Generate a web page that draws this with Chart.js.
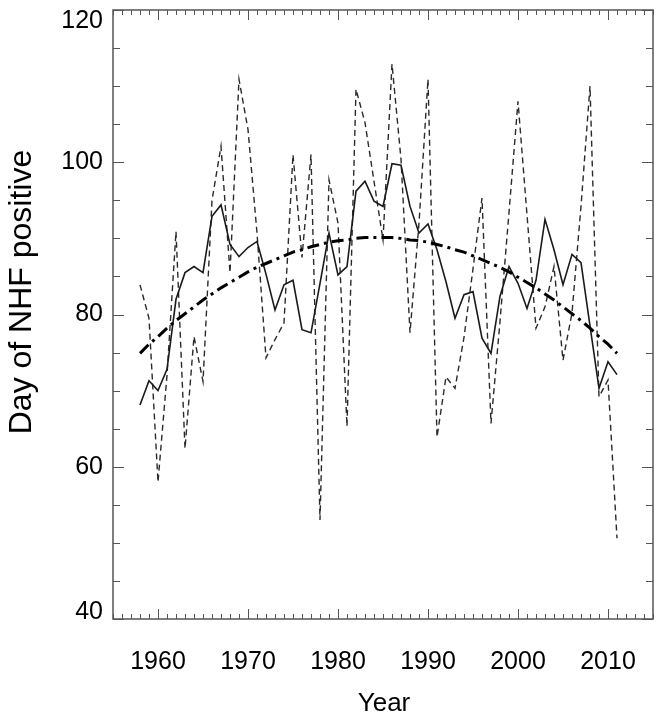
<!DOCTYPE html>
<html>
<head>
<meta charset="utf-8">
<script src="https://cdn.jsdelivr.net/npm/chart.js@4"></script>
<style>
  html, body { margin: 0; padding: 0; background: #fff; }
</style>
</head>
<body>
<canvas id="nhfChart" width="665" height="722"></canvas>
<script>
const years = [1958, 1959, 1960, 1961, 1962, 1963, 1964, 1965, 1966, 1967,
               1968, 1969, 1970, 1971, 1972, 1973, 1974, 1975, 1976, 1977,
               1978, 1979, 1980, 1981, 1982, 1983, 1984, 1985, 1986, 1987,
               1988, 1989, 1990, 1991, 1992, 1993, 1994, 1995, 1996, 1997,
               1998, 1999, 2000, 2001, 2002, 2003, 2004, 2005, 2006, 2007,
               2008, 2009, 2010, 2011];

// dashed line: yearly day counts
const annualDays = [83.9, 79.5, 58.0, 72.0, 90.9, 62.4, 77.1, 71.2, 95.0, 102.1,
                    85.5, 110.9, 104.3, 90.7, 74.3, 76.7, 78.9, 101.0, 87.5, 101.0,
                    53.0, 97.7, 92.0, 65.3, 109.6, 105.2, 97.5, 89.8, 112.9, 100.4,
                    77.6, 92.0, 110.9, 63.9, 71.8, 70.3, 77.0, 86.0, 95.3, 65.7,
                    79.1, 93.4, 108.0, 93.1, 78.2, 81.0, 86.3, 74.0, 80.2, 94.2,
                    110.0, 69.2, 71.4, 50.6];

// solid line: smoothed series
const smoothedDays = [68.1, 71.3, 70.0, 72.8, 82.0, 85.5, 86.3, 85.5, 92.9, 94.4,
                      89.2, 87.6, 88.8, 89.6, 85.3, 80.6, 83.9, 84.5, 78.0, 77.6,
                      84.1, 90.7, 85.2, 86.3, 96.2, 97.5, 94.9, 94.2, 99.8, 99.6,
                      94.2, 90.7, 91.9, 88.5, 84.3, 79.5, 82.6, 83.0, 76.9, 74.9,
                      82.4, 86.3, 84.1, 80.8, 84.5, 92.5, 88.5, 83.9, 87.9, 86.8,
                      78.5, 70.3, 73.8, 72.1];

// dash-dot line: fitted trend curve
const trendDays = [74.9, 76.1, 77.1, 78.2, 79.2, 80.1, 81.0, 81.9, 82.7, 83.5,
                   84.2, 84.9, 85.6, 86.2, 86.7, 87.2, 87.7, 88.2, 88.5, 88.9,
                   89.2, 89.5, 89.7, 89.8, 90.0, 90.1, 90.1, 90.1, 90.1, 90.0,
                   89.8, 89.7, 89.5, 89.2, 88.9, 88.5, 88.2, 87.7, 87.2, 86.7,
                   86.2, 85.6, 84.9, 84.2, 83.5, 82.7, 81.9, 81.0, 80.1, 79.2,
                   78.2, 77.1, 76.1, 74.9];

const xTicks = [1960, 1970, 1980, 1990, 2000, 2010];
const yTicks = [40, 60, 80, 100, 120];

const FONT = '"Liberation Sans", Arial, Helvetica, sans-serif';

function toPoints(vals) {
    return years.map((yr, i) => ({ x: yr, y: vals[i] }));
}

// box frame with inward ticks (IDL style) + axis titles
const frameTicks = {
    id: 'frameTicks',
    afterDraw(chart) {
        const { ctx, chartArea: a, scales: { x, y } } = chart;
        ctx.save();
        ctx.strokeStyle = '#555';
        ctx.lineWidth = 1.5;
        ctx.strokeRect(a.left, a.top, a.right - a.left, a.bottom - a.top);

        ctx.lineWidth = 1;
        ctx.beginPath();
        for (let yr = x.min; yr <= x.max; yr++) {
            const px = Math.round(x.getPixelForValue(yr)) + 0.5;
            const len = yr % 10 === 0 ? 10 : 5;
            ctx.moveTo(px, a.bottom); ctx.lineTo(px, a.bottom - len);
            ctx.moveTo(px, a.top); ctx.lineTo(px, a.top + len);
        }
        for (let v = y.min; v <= y.max; v += 5) {
            const py = Math.round(y.getPixelForValue(v)) + 0.5;
            const len = v % 20 === 0 ? 11 : 7;
            ctx.moveTo(a.left, py); ctx.lineTo(a.left + len, py);
            ctx.moveTo(a.right, py); ctx.lineTo(a.right - len, py);
        }
        ctx.stroke();

        ctx.fillStyle = '#000';
        ctx.textAlign = 'center';
        ctx.textBaseline = 'middle';
        ctx.font = '26px ' + FONT;
        ctx.fillText('Year', 384, 704);

        ctx.translate(22, 292);
        ctx.rotate(-Math.PI / 2);
        ctx.font = '32px ' + FONT;
        ctx.fillText('Day of NHF positive', 0, 0);
        ctx.restore();
    }
};

const ctx = document.getElementById('nhfChart').getContext('2d');
const nhfChart = new Chart(ctx, {
    type: 'line',
    data: {
        datasets: [{
            label: 'Trend',
            data: toPoints(trendDays),
            borderColor: '#000',
            borderWidth: 3,
            borderDash: [12, 5, 3, 5],
            pointRadius: 0,
            fill: false
        }, {
            label: 'Smoothed',
            data: toPoints(smoothedDays),
            borderColor: '#1a1a1a',
            borderWidth: 1.6,
            pointRadius: 0,
            fill: false
        }, {
            label: 'Annual',
            data: toPoints(annualDays),
            borderColor: '#2a2a2a',
            borderWidth: 1.4,
            borderDash: [6, 4],
            pointRadius: 0,
            fill: false
        }]
    },
    options: {
        responsive: false,
        animation: false,
        layout: { padding: { top: 10, right: 12, left: 0, bottom: 0 } },
        plugins: {
            legend: { display: false },
            tooltip: { enabled: false }
        },
        scales: {
            x: {
                type: 'linear',
                min: 1955,
                max: 2015,
                grid: { display: false, drawTicks: false },
                border: { display: false },
                afterBuildTicks: (scale) => { scale.ticks = xTicks.map(v => ({ value: v })); },
                afterFit: (scale) => {
                    scale.height = 103;
                    scale.paddingLeft = 0;
                    scale.paddingRight = 0;
                },
                ticks: {
                    color: '#000',
                    font: { family: FONT, size: 25 },
                    padding: 28,
                    maxRotation: 0,
                    callback: (v) => String(v)
                }
            },
            y: {
                min: 40,
                max: 120,
                grid: { display: false, drawTicks: false },
                border: { display: false },
                afterBuildTicks: (scale) => { scale.ticks = yTicks.map(v => ({ value: v })); },
                afterFit: (scale) => {
                    scale.width = 113;
                    scale.paddingTop = 0;
                    scale.paddingBottom = 0;
                },
                ticks: {
                    color: '#000',
                    padding: 10,
                    // end labels sit inside the frame, as in the original plot
                    font: (c) => ({
                        family: FONT,
                        size: 25,
                        lineHeight: c.tick && c.tick.value === 40 ? '14px' : '22px'
                    }),
                    callback: (v) => v === 120 ? ['', '120'] : v === 40 ? ['40', ''] : String(v)
                }
            }
        }
    },
    plugins: [frameTicks]
});
</script>
</body>
</html>
